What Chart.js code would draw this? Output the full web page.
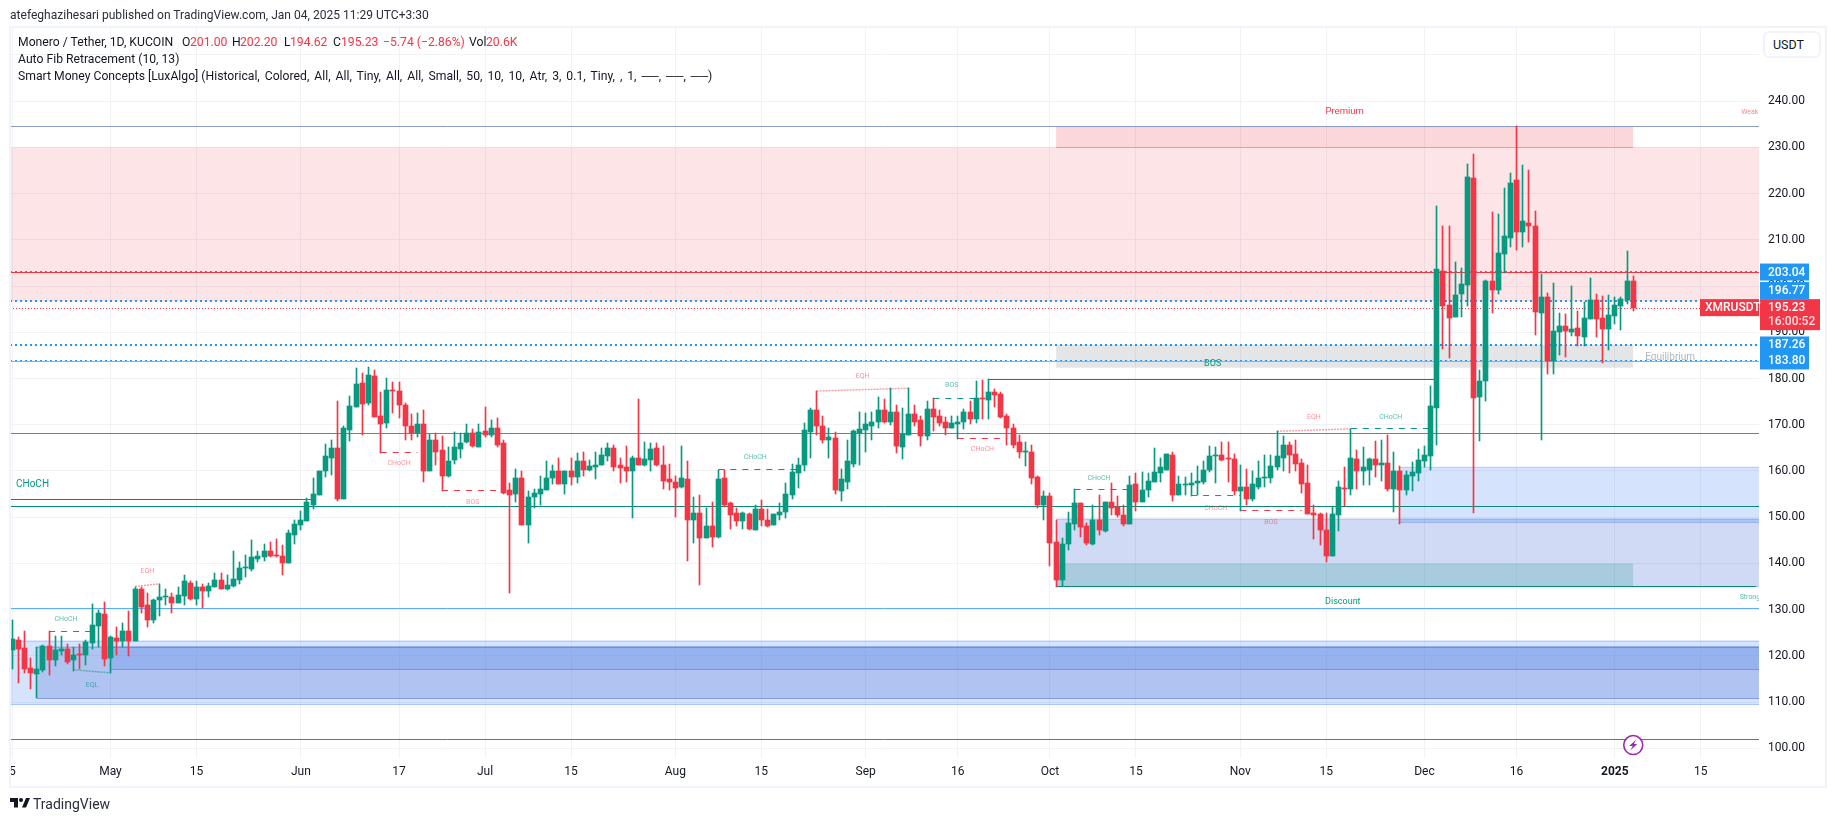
<!DOCTYPE html>
<html>
<head>
<meta charset="utf-8">
<title>XMRUSDT</title>
<script src="https://cdn.jsdelivr.net/npm/chart.js@4/dist/chart.umd.js"></script>
<style>
html,body{margin:0;padding:0;background:#fff;width:1835px;height:821px;overflow:hidden;font-family:Roboto,sans-serif;color:#131722}
#c{position:absolute;left:0;top:0}
.frame{position:absolute;left:9px;top:26px;width:1814px;height:758px;border:2px solid #f0f3fa;pointer-events:none}
.t{position:absolute;white-space:pre;font-size:12.2px;line-height:16px}
.r{color:#f23645}
.btn{position:absolute;left:1763px;top:31px;width:54px;height:23px;border:2px solid #f0f3fa;border-radius:6px;background:#fff;font-size:12.5px;line-height:23px;text-indent:8px}
.logo{position:absolute;left:10px;top:798px}
</style>
</head>
<body>
<canvas id="c" width="1835" height="821"></canvas>
<div class="frame"></div>
<div class="t" style="left:10px;top:7px;color:#2a2e39;font-size:12.05px">atefeghazihesari published on TradingView.com, Jan 04, 2025 11:29 UTC+3:30</div>
<div class="t" style="left:18px;top:34px">Monero / Tether, 1D, KUCOIN</div>
<div class="t" style="left:182px;top:34px">O</div><div class="t r" style="left:190px;top:34px">201.00</div>
<div class="t" style="left:232px;top:34px">H</div><div class="t r" style="left:240px;top:34px">202.20</div>
<div class="t" style="left:284px;top:34px">L</div><div class="t r" style="left:290px;top:34px">194.62</div>
<div class="t" style="left:333px;top:34px">C</div><div class="t r" style="left:341px;top:34px">195.23</div>
<div class="t r" style="left:383px;top:34px">−5.74 (−2.86%)</div>
<div class="t" style="left:469px;top:34px">Vol</div><div class="t r" style="left:486px;top:34px">20.6K</div>
<div class="t" style="left:18px;top:51px">Auto Fib Retracement (10, 13)</div>
<div class="t" style="left:18px;top:68px">Smart Money Concepts [LuxAlgo] <span style="word-spacing:1.95px">(Historical, Colored, All, All, Tiny, All, All, Small, 50, 10, 10, Atr, 3, 0.1, Tiny, , 1, ──, ──, ──)</span></div>
<div class="btn">USDT</div>
<svg class="logo" width="20" height="10" viewBox="0 0 20 10"><path d="M0 0h8v9.5H4V4H0zM16 0h4l-4 9.5h-4z" fill="#131722"/><circle cx="11" cy="2" r="2" fill="#131722"/></svg>
<div class="t" style="left:33px;top:796px;font-size:14px;color:#2a2e39">TradingView</div>
<script>
const opens=[121.2,123.5,121.8,117.4,116.1,117.0,122.2,119.0,121.1,121.5,
119.0,120.4,120.2,122.8,126.5,129.1,119.6,123.9,123.3,125.4,
123.3,134.5,130.9,127.8,132.0,132.7,132.8,131.5,133.0,135.8,
132.2,135.0,134.1,135.0,136.5,134.5,135.2,136.5,138.9,138.7,
141.0,141.3,142.6,141.7,141.7,140.0,146.2,148.4,149.1,152.7,
154.9,159.9,162.9,164.9,154.0,168.8,173.8,179.0,174.6,180.5,
171.8,170.3,177.5,177.2,174.2,169.7,168.2,170.1,160.1,166.6,
164.5,159.0,162.3,164.7,166.2,168.2,165.1,168.6,167.7,169.2,
166.0,155.8,155.1,158.4,148.4,154.3,155.1,155.8,158.4,160.1,
157.1,159.9,158.6,162.1,160.3,160.8,161.2,163.2,164.9,161.2,
160.8,160.1,162.9,161.2,162.3,164.9,161.4,158.2,157.7,156.6,
158.2,149.3,150.8,145.6,148.0,145.8,158.4,153.0,150.8,149.1,
150.6,147.3,151.7,149.5,148.4,150.4,151.2,154.9,159.5,161.4,
168.4,173.1,169.7,166.6,167.1,155.6,157.7,161.6,168.2,168.8,
169.7,170.5,173.1,170.5,172.7,165.1,167.7,172.3,171.0,167.5,
173.4,171.8,170.5,169.4,170.1,170.5,172.7,171.2,175.7,175.3,
177.0,176.6,171.8,169.4,166.2,164.1,164.0,158.6,152.7,154.5,
144.7,136.5,144.1,148.6,153.0,148.0,144.3,149.3,147.1,153.2,
152.1,150.4,148.6,157.1,153.2,155.8,157.7,159.5,160.3,163.4,
154.9,156.9,156.9,157.3,157.7,160.3,163.2,163.4,162.7,162.5,
155.6,156.6,154.0,156.6,158.4,158.4,160.8,162.9,165.7,163.6,
161.8,157.3,150.8,150.6,147.3,141.5,150.4,156.4,156.0,162.5,
159.9,160.3,162.5,161.2,161.8,156.2,160.1,155.8,159.0,159.5,
162.1,163.2,173.7,203.3,196.0,193.4,198.3,200.3,223.3,176.0,
179.5,201.2,199.2,207.0,210.3,222.9,211.8,213.7,213.1,194.2,
197.7,183.8,190.1,191.4,190.1,191.0,189.0,192.9,197.0,193.1,
190.8,193.6,195.7,197.0,201.0];
const closes=[123.7,121.5,117.2,116.3,117.2,122.2,119.0,121.3,121.5,118.7,
120.2,120.2,123.0,126.7,129.3,119.4,124.1,123.3,125.4,123.3,
134.5,130.6,127.8,132.0,132.8,132.8,131.5,133.2,136.1,132.2,
135.0,134.1,135.2,136.5,134.5,135.4,136.7,138.9,139.1,141.3,
141.5,142.6,141.7,141.5,140.0,146.5,148.6,149.3,153.2,155.1,
160.1,163.2,164.9,154.0,169.2,174.0,178.8,174.4,180.7,171.6,
170.1,177.5,177.3,174.2,169.7,168.2,170.1,159.9,166.8,164.2,
159.0,162.1,165.1,166.0,168.2,165.3,168.4,167.7,169.2,165.7,
155.3,154.9,158.4,148.4,154.3,155.3,156.0,158.4,159.9,157.1,
159.9,158.6,162.1,160.3,161.0,161.4,163.4,164.9,160.8,160.6,
160.1,162.9,161.2,162.5,164.7,161.2,157.9,157.7,156.4,158.4,
149.3,150.8,145.6,148.2,145.8,158.2,152.7,150.4,149.1,150.8,
147.5,151.7,149.3,148.2,150.6,151.2,155.1,159.7,161.4,168.8,
173.1,169.7,166.6,167.3,155.8,158.2,162.1,168.6,169.0,170.1,
170.7,173.1,170.5,172.7,165.3,167.9,172.3,170.7,167.5,173.4,
171.6,170.3,169.4,170.3,170.5,172.7,171.2,175.7,175.5,177.0,
176.4,171.6,169.2,165.7,164.0,164.2,158.4,152.7,154.5,144.5,
136.5,144.1,148.8,153.0,147.8,144.5,149.3,147.3,153.2,151.9,
150.4,148.6,156.9,153.2,155.8,157.9,159.7,160.8,163.6,154.9,
157.1,157.1,157.5,157.9,160.3,163.2,163.3,162.3,162.5,155.6,
156.6,154.0,157.1,158.4,158.8,161.0,163.2,165.7,163.4,161.6,
157.1,150.6,150.4,147.3,141.5,150.6,156.6,156.0,162.7,159.9,
160.8,162.5,161.2,161.8,156.0,160.1,155.8,159.2,159.7,162.3,
163.4,174.0,203.6,195.7,193.1,198.1,200.5,223.5,175.8,179.5,
201.2,199.2,207.2,210.9,222.4,211.8,214.0,212.9,194.4,197.7,
183.8,190.3,191.4,190.3,190.8,189.2,193.1,197.0,192.9,190.8,
193.8,196.0,197.3,201.0,195.23];
const highs=[127.8,124.1,125.4,119.5,121.9,122.4,125.4,124.2,124.3,122.6,
121.9,122.6,123.5,131.3,130.0,131.6,124.3,126.3,127.0,129.8,
135.0,134.8,133.7,132.4,135.5,134.5,133.7,135.0,137.6,136.3,
136.3,135.6,135.8,138.0,138.0,137.6,142.6,140.2,141.9,145.0,
142.6,144.3,144.7,145.2,143.9,147.3,149.5,151.4,154.1,158.4,
160.1,165.8,166.6,175.1,169.7,176.2,182.2,181.1,182.5,181.8,
177.0,180.1,179.2,179.2,174.6,172.3,172.5,173.1,167.9,168.2,
167.5,165.1,168.4,168.2,170.1,169.0,170.1,173.8,171.0,171.4,
166.6,157.5,160.5,159.9,155.6,156.0,159.0,162.1,161.4,162.9,
160.1,162.9,163.8,164.2,162.3,164.0,164.9,166.0,165.7,162.9,
165.5,163.2,175.5,166.2,166.0,166.0,165.5,161.6,159.0,165.3,
162.1,154.3,154.7,151.9,153.2,160.3,160.3,153.2,151.9,151.2,
151.0,152.7,153.8,151.7,150.6,153.1,157.3,161.6,162.9,170.3,
173.6,177.3,172.0,169.4,168.4,160.5,166.6,168.8,172.7,172.5,
172.7,176.0,175.5,177.9,174.2,173.6,177.9,174.2,172.0,175.1,
175.7,173.1,171.6,172.0,172.0,173.4,175.1,179.4,179.6,179.8,
177.7,177.0,172.3,170.1,167.7,166.2,165.7,159.0,155.6,155.3,
149.5,145.4,151.2,156.0,153.0,148.8,152.7,154.9,153.2,157.3,
154.5,152.7,159.0,159.5,159.7,159.5,164.9,162.7,163.6,164.0,
159.0,158.6,159.5,161.0,162.1,165.5,165.1,166.2,166.2,163.6,
161.4,160.5,160.1,162.1,163.4,163.4,168.6,167.5,166.2,166.8,
162.5,161.2,152.7,150.8,150.8,152.3,157.9,160.8,169.1,164.5,
165.1,162.9,166.4,166.8,167.7,164.2,161.0,160.1,161.9,164.7,
165.5,178.3,217.4,212.9,212.9,205.3,204.0,226.5,228.5,181.9,
201.4,216.1,215.7,221.3,224.4,234.6,226.3,225.2,216.3,202.7,
198.6,200.7,194.2,194.0,200.1,194.7,196.6,201.8,198.3,197.9,
198.1,197.7,197.7,207.5,202.2];
const lows=[117.2,114.2,116.3,112.9,110.8,116.6,115.9,117.9,120.2,118.3,
116.8,117.1,118.1,121.5,121.9,117.9,116.3,120.2,121.9,120.0,
123.3,129.3,126.3,127.2,128.7,131.1,129.3,131.5,131.1,132.0,
130.9,130.4,132.8,134.8,134.5,134.3,134.8,135.6,137.1,138.4,
140.4,140.6,141.3,141.3,137.6,140.0,144.1,147.3,149.1,151.7,
154.7,158.8,159.2,153.6,154.0,166.4,173.8,167.7,174.2,171.6,
163.9,169.2,172.5,171.4,166.6,166.6,167.3,157.7,160.1,161.4,
155.7,158.6,161.6,162.7,166.0,165.1,165.1,167.3,167.3,165.1,
155.1,133.7,153.2,148.4,144.5,151.9,152.7,155.8,157.1,157.1,
155.1,156.9,157.3,159.0,160.1,158.2,161.2,162.1,160.1,157.3,
157.7,149.9,161.2,161.0,159.9,161.0,156.0,155.8,150.1,156.4,
140.6,144.5,135.4,145.6,143.6,145.6,152.3,147.5,148.2,147.5,
147.3,147.3,148.0,147.8,148.4,149.5,149.9,154.0,156.4,159.9,
162.9,167.7,166.0,162.7,155.1,153.4,156.0,160.8,161.2,164.2,
166.8,169.4,170.3,169.9,163.8,162.5,167.7,169.7,165.3,166.8,
168.6,169.7,167.7,169.2,167.0,169.0,170.1,170.3,171.2,171.2,
173.8,171.4,165.7,164.9,162.9,161.0,157.1,151.9,149.5,139.5,
135.0,135.2,143.0,147.3,145.8,143.9,143.9,146.2,146.9,150.4,
150.1,148.2,148.6,151.4,153.2,154.3,157.7,157.7,160.3,153.4,
154.7,154.7,154.6,154.7,157.2,159.7,157.3,162.1,157.7,154.7,
151.4,152.7,153.6,156.0,156.6,157.5,160.3,160.1,159.5,160.1,
155.3,150.6,145.2,143.9,140.2,141.5,147.1,152.5,154.7,156.0,
156.9,156.9,158.8,157.9,155.6,151.2,148.6,154.7,155.6,157.9,
160.8,160.3,165.6,186.4,184.5,193.4,193.4,195.7,150.9,166.5,
175.1,194.2,198.3,202.9,208.5,207.9,208.5,209.6,189.5,166.7,
181.0,181.0,185.1,184.7,189.2,187.1,187.1,192.9,189.0,183.4,
186.2,191.8,190.5,196.2,194.62];

// time axis: bar number (1 = 15 Apr 2024) and its label
const tickBars=[1,17,31,48,64,78,92,109,123,140,155,170,184,201,215,231,246,262,276];
const tickLabels=['5','May','15','Jun','17','Jul','15','Aug','15','Sep','16','Oct','15','Nov','15','Dec','16','2025','15'];
const priceTicks=[100,110,120,130,140,150,160,170,180,190,200,210,220,230,240,250];

// zones: first bar, last bar, top price, bottom price
const premiumZone=[0,286,230,196.8], topBox=[171,265,234.5,229.9], equilibriumBox=[171,265,187.26,182.4];
const upperBlueZone=[227,286,160.8,148.9], discountZone=[171,286,149.6,135], discountBox=[171,265,139.9,135];
const lowBlueZone=[0,286,123.2,109.5], lowBlockZone=[5,286,121.9,110.8], lowCoreZone=[17,286,121.9,117.1];

// horizontal levels across the whole pane
const levelTop=234.5, levelFib=203.04, levelEq=183.7, levelGreen=168.1, levelTeal=152.4, levelBlue=130.3, levelLow=101.8;
const dottedLevels=[203.04,196.77,187.26,183.80];
const lastPrice=195.23;

// structure segments: start bar, end bar, start price, end price
const choch=[0,50,153.8,153.8], bosLong=[160,233,179.7,179.7], strongLow=[171,285,135,135];
const greenDashed=[[7,14,125.3],[116,129,160.3],[151,158,175.7],[174,183,155.9],[219,232,169.1]];
const redDashed=[[61,67,163.95],[71,81,155.7],[155,163,167],[193,201,154.6],[201,211,151.4]];
const redDotted=[[21,25,135,135.6],[132,147,177.3,177.9],[207,219,168.6,169.1]];
const tealDotted=[[11,17,117,116.3]];

// text labels on the pane
const labelBars=[9.75,23,14,64,76,122,139.5,154,159,178,197,206,213,225.5,196.5,4.3,218,217.7,271,285.3,285.2];
const labelPrices=[128,138.4,113.6,161.6,153.3,163,180.6,178.5,164.6,158.5,151.9,148.9,171.7,171.7,183.2,157,237.7,131.8,184.6,237.7,132.6];
const labelTexts=['CHoCH','EQH','EQL','CHoCH','BOS','CHoCH','EQH','BOS','CHoCH','CHoCH','CHoCH','BOS','EQH','CHoCH','BOS','CHoCH','Premium','Discount','Equilibrium','Weak High','Strong Low'];
const labelKinds=['g','r','t','r','r','g','r','g','r','g','r','r','r','g','G','L','R','G','E','w','s'];

// price tags at the right
const tagPrices=[203.04,196.77,187.26,183.80];
const tagTexts=['203.04','196.77','187.26','183.80'];
const tagNudge=[0,-10.5,0,0];
const symbolText='XMRUSDT', countdownText='16:00:52';
const lightningBar=265, lightningPrice=100.7;

const UP='#089981', DOWN='#f23645';
const bars=opens.map((_,i)=>i+1);
const candleColors=opens.map((o,i)=>closes[i]>=o?UP:DOWN);
const xMin=0.632, xMax=285.48, yMin=97.9, yMax=255.84;

function clampX(v){return Math.min(Math.max(v,xMin),xMax);}
const datasets=[];
function zone(z,fill,edge,order){
  const a=clampX(z[0]),b=clampX(z[1]);
  datasets.push({type:'line',data:[{x:a,y:z[2]},{x:b,y:z[2]}],borderColor:edge,borderWidth:1,pointRadius:0,
    backgroundColor:fill,fill:{target:{value:z[3]}},order});
  datasets.push({type:'line',data:[{x:a,y:z[3]},{x:b,y:z[3]}],borderColor:edge,borderWidth:1,pointRadius:0,fill:false,order});
}
function seg(a,b,p,q,color,dash,w){
  datasets.push({type:'line',data:[{x:clampX(a),y:p},{x:clampX(b),y:q}],borderColor:color,borderWidth:w||1,
    borderDash:dash||[],pointRadius:0,fill:false,order:5});
}
zone(premiumZone,'rgba(242,54,69,.13)','rgba(242,54,69,.06)',12);
zone(topBox,'rgba(242,54,69,.2)','rgba(242,54,69,.25)',11);
zone(equilibriumBox,'rgba(120,123,134,.2)','rgba(120,123,134,.05)',11);
zone(upperBlueZone,'rgba(45,115,245,.2)','rgba(45,115,245,.3)',12);
zone(discountZone,'rgba(20,70,200,.2)','rgba(20,70,200,.25)',11);
zone(discountBox,'rgba(108,180,184,.4)','rgba(108,180,184,.3)',10);
zone(lowBlueZone,'rgba(45,115,245,.2)','rgba(45,115,245,.35)',12);
zone(lowBlockZone,'rgba(91,123,213,.3)','rgba(60,100,210,.5)',11);
zone(lowCoreZone,'rgba(88,135,234,.3)','rgba(60,100,210,.5)',10);

seg(xMin,xMax,levelTop,levelTop,'#8e9cc9');
seg(xMin,xMax,levelFib,levelFib,'#f23645');
seg(xMin,xMax,levelEq,levelEq,'#81c784');
seg(xMin,xMax,levelGreen,levelGreen,'#3fa844');
seg(xMin,xMax,levelTeal,levelTeal,'#078a74');
seg(xMin,xMax,levelBlue,levelBlue,'#5aaef5');
seg(xMin,xMax,levelLow,levelLow,'#6f727d');
dottedLevels.forEach(p=>seg(xMin,xMax,p,p,'#2196f3',[2,3],2));
seg(xMin,xMax,lastPrice,lastPrice,'#f23645',[1,2]);
[choch,bosLong,strongLow].forEach(s=>seg(s[0],s[1],s[2],s[3],'#078a74'));
greenDashed.forEach(s=>seg(s[0],s[1],s[2],s[2],'#089981',[6,6]));
redDashed.forEach(s=>seg(s[0],s[1],s[2],s[2],'#f23645',[6,6]));
redDotted.forEach(s=>seg(s[0],s[1],s[2],s[3],'#f9a0a8',[2,1],1.5));
tealDotted.forEach(s=>seg(s[0],s[1],s[2],s[3],'#5ba9b0',[2,1],1.5));

datasets.push({type:'bar',grouped:false,order:2,barThickness:1,minBarLength:1,
  data:bars.map((b,i)=>({x:b,y:[lows[i],highs[i]]})),backgroundColor:candleColors});
datasets.push({type:'bar',grouped:false,order:1,barThickness:5,minBarLength:1,
  data:bars.map((b,i)=>({x:b,y:[opens[i],closes[i]]})),backgroundColor:candleColors});

const kindStyle={g:['rgba(8,153,129,.65)','7px'],r:['rgba(242,54,69,.55)','7px'],t:['rgba(50,150,170,.85)','7px'],
  G:['#089981','9px'],L:['#089981','10px'],R:['#f23645','9.5px'],E:['#b2b5be','10px'],w:['rgba(242,54,69,.6)','7px'],s:['rgba(8,153,129,.7)','7px']};

const overlayPlugin={
  id:'overlay',
  // keep candles and level lines on whole pixels so they stay crisp
  afterDatasetsUpdate(chart){
    chart.data.datasets.forEach((ds,i)=>{
      const meta=chart.getDatasetMeta(i);
      if(ds.type==='bar'){
        meta.data.forEach(el=>{
          el.x=Math.floor(el.x)+0.5;
          el.y=Math.round(el.y);el.base=Math.round(el.base);
          if(el.y===el.base)el.base=el.y+1;
        });
      }else if(meta.data.length===2&&ds.data[0].y===ds.data[1].y&&!ds.fill){
        const w=ds.borderWidth;
        meta.data.forEach(el=>{el.y=w===2?Math.round(el.y):Math.floor(el.y)+0.5;});
      }
    });
  },
  afterDatasetsDraw(chart){
    const {ctx,chartArea:a,scales:{x,y}}=chart;
    ctx.save();
    ctx.beginPath();ctx.rect(a.left,a.top,a.width,a.height);ctx.clip();
    ctx.textAlign='center';ctx.textBaseline='middle';
    labelTexts.forEach((t,i)=>{
      const st=kindStyle[labelKinds[i]];
      ctx.fillStyle=st[0];ctx.font=st[1]+' Roboto, sans-serif';
      ctx.fillText(t,x.getPixelForValue(labelBars[i]),y.getPixelForValue(labelPrices[i]));
    });
    const cx=x.getPixelForValue(lightningBar),cy=y.getPixelForValue(lightningPrice);
    ctx.beginPath();ctx.arc(cx,cy,9.5,0,Math.PI*2);ctx.fillStyle='#fff';ctx.fill();
    ctx.lineWidth=1.6;ctx.strokeStyle='#9c27b0';ctx.stroke();
    ctx.beginPath();
    [[3,-5.5],[-4,1],[-0.5,1],[-3,5.5],[4,-1],[0.5,-1]].forEach((p,i)=>i?ctx.lineTo(cx+p[0],cy+p[1]):ctx.moveTo(cx+p[0],cy+p[1]));
    ctx.closePath();ctx.fillStyle='#9c27b0';ctx.fill();
    ctx.restore();
  },
  afterDraw(chart){
    const {ctx,chartArea:a,scales:{y}}=chart;
    ctx.save();
    ctx.textBaseline='middle';ctx.textAlign='left';
    ctx.font='500 12px Roboto, sans-serif';
    const left=a.right+1;
    tagPrices.forEach((p,i)=>{
      const cy=y.getPixelForValue(p)+tagNudge[i];
      ctx.fillStyle='#2196f3';ctx.fillRect(left,cy-8.5,49,17);
      ctx.fillStyle='#fff';ctx.fillText(tagTexts[i],left+8,cy+0.5);
    });
    const py=y.getPixelForValue(lastPrice);
    ctx.fillStyle=DOWN;ctx.fillRect(left,py-9,60,31);
    ctx.fillRect(a.right-59,py-9,59,17);
    ctx.fillStyle='#fff';
    ctx.fillText(lastPrice.toFixed(2),left+8,py);
    ctx.fillText(symbolText,a.right-54,py);
    ctx.fillStyle='rgba(255,255,255,.85)';
    ctx.fillText(countdownText,left+8,py+14);
    ctx.restore();
  }
};

new Chart(document.getElementById('c'),{
  type:'bar',
  data:{datasets},
  plugins:[overlayPlugin],
  options:{
    responsive:false,animation:false,devicePixelRatio:1,
    layout:{padding:{left:10,top:28,right:12,bottom:36}},
    plugins:{legend:{display:false},tooltip:{enabled:false}},
    scales:{
      x:{type:'linear',min:xMin,max:xMax,offset:false,
        grid:{color:'#f1f2f5',drawTicks:false,offset:false},border:{display:false},
        afterBuildTicks(s){s.ticks=tickBars.map(v=>({value:v}));},
        afterFit(s){s.height=27;},
        ticks:{autoSkip:false,maxRotation:0,padding:7,color:'#131722',
          font:c=>({family:'Roboto, sans-serif',size:12,weight:c.tick&&c.tick.value===262?'bold':'normal'}),
          callback:v=>{const k=tickBars.indexOf(v);return k<0?'':tickLabels[k];}}
      },
      y:{type:'linear',position:'right',min:yMin,max:yMax,
        grid:{color:'#f1f2f5',drawTicks:false},border:{display:false},
        afterBuildTicks(s){s.ticks=priceTicks.map(v=>({value:v}));},
        afterFit(s){s.width=64;},
        ticks:{padding:9,color:'#131722',font:{family:'Roboto, sans-serif',size:12},
          callback:v=>v.toFixed(2)}
      }
    }
  }
});
</script>
</body>
</html>
